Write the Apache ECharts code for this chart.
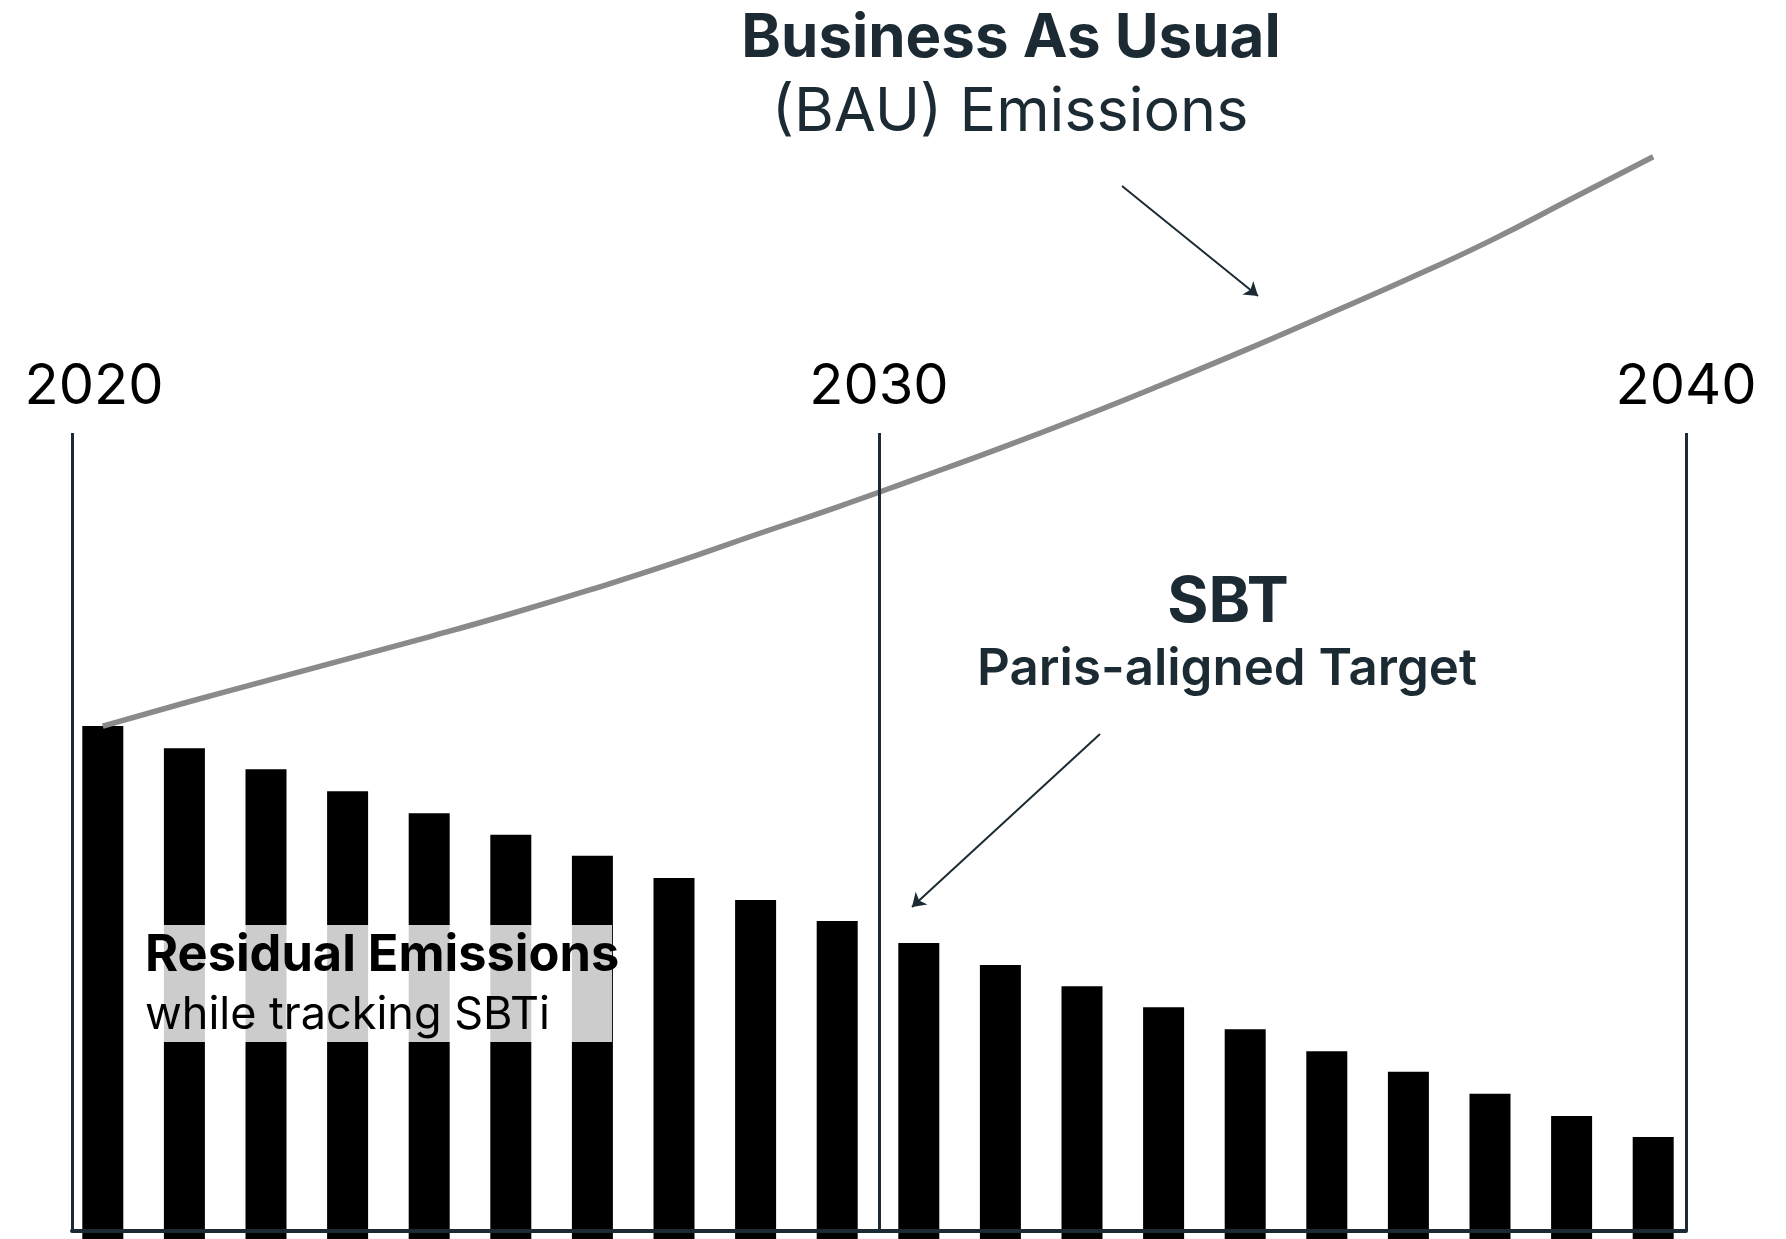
<!DOCTYPE html>
<html>
<head>
<meta charset="utf-8">
<title>Residual Emissions vs BAU</title>
<script src="https://cdn.jsdelivr.net/npm/echarts@6/dist/echarts.min.js"></script>
<style>
  html, body { margin: 0; padding: 0; background: #fff; }
  #chart { width: 1786px; height: 1239px; }
</style>
</head>
<body>
<div id="chart"></div>
<script>
// index, 2020 = 100
const years = ['2020', '2021', '2022', '2023', '2024', '2025', '2026', '2027', '2028', '2029',
  '2030', '2031', '2032', '2033', '2034', '2035', '2036', '2037', '2038', '2039']
const residualEmissions = [100, 95.7, 91.6, 87.3, 83.0, 78.8, 74.7, 70.4, 66.1, 62.0,
  57.7, 53.4, 49.3, 45.2, 40.9, 36.6, 32.6, 28.3, 24.0, 19.9]
const bauEmissions = [100, 104.5, 108.8, 113.1, 117.4, 121.9, 126.7, 131.8, 137.3, 142.7,
  148.4, 154.2, 160.3, 166.7, 173.3, 180.2, 187.2, 194.6, 202.8, 211.0]
const milestoneYears = [2020, 2030, 2040]

const FONT = 'Inter'
const DARK = '#1c2b33'

const chart = echarts.init(document.getElementById('chart'))

const labelText = (text, x, y, size, weight, color, align) => ({
  type: 'text',
  z: 100,
  style: {
    text: text,
    x: x,
    y: y,
    fill: color,
    font: weight + ' ' + size + 'px ' + FONT,
    textAlign: align || 'center',
    textVerticalAlign: 'middle'
  }
})

chart.setOption({
  animation: false,
  grid: [
    { left: 62, right: 92, top: 8, bottom: 0 },
    { left: 72, right: 100, top: 433, bottom: 8 }
  ],
  xAxis: [
    {
      type: 'category',
      gridIndex: 0,
      data: years,
      show: false
    },
    {
      type: 'value',
      gridIndex: 1,
      position: 'top',
      min: milestoneYears[0],
      max: milestoneYears[milestoneYears.length - 1],
      interval: 10,
      z: 5,
      axisLine: { show: false },
      axisTick: { show: false },
      splitLine: { show: true, lineStyle: { color: DARK, width: 3 } },
      axisLabel: {
        margin: 18,
        formatter: (v) => (v === milestoneYears[0] ? '{first|' + v + '}' : '{base|' + v + '}'),
        rich: {
          first: { fontSize: 56, fontFamily: FONT, color: '#000', padding: [0, 0, 0, 44] },
          base: { fontSize: 56, fontFamily: FONT, color: '#000' }
        }
      }
    },
    {
      type: 'value',
      gridIndex: 1,
      position: 'bottom',
      min: milestoneYears[0],
      max: milestoneYears[milestoneYears.length - 1],
      interval: 10,
      z: 5,
      axisLine: { show: true, lineStyle: { color: DARK, width: 4 } },
      axisTick: { show: false },
      axisLabel: { show: false },
      splitLine: { show: false }
    }
  ],
  yAxis: [
    { type: 'value', gridIndex: 0, min: 0, max: 240, show: false },
    { type: 'value', gridIndex: 1, min: 0, max: 1, show: false }
  ],
  series: [
    {
      name: 'Residual Emissions',
      type: 'bar',
      xAxisIndex: 0,
      yAxisIndex: 0,
      data: residualEmissions,
      barWidth: 41,
      itemStyle: { color: '#000' },
      silent: true,
      markLine: {
        silent: true,
        symbol: ['none', 'arrow'],
        symbolSize: 13,
        label: { show: false },
        lineStyle: { color: DARK, width: 2, type: 'solid' },
        data: [
          [{ x: 1122, y: 186 }, { x: 1258, y: 296 }],
          [{ x: 1100, y: 734 }, { x: 912, y: 907 }]
        ]
      }
    },
    {
      name: 'Business As Usual',
      type: 'line',
      xAxisIndex: 0,
      yAxisIndex: 0,
      data: bauEmissions,
      smooth: true,
      showSymbol: false,
      symbol: 'none',
      silent: true,
      lineStyle: { color: '#8a8a8a', width: 5.5 }
    }
  ],
  graphic: [
    // white veil over the bars behind the label
    {
      type: 'rect',
      z: 99,
      shape: { x: 161, y: 925, width: 451, height: 117 },
      style: { fill: 'rgba(255,255,255,0.8)' }
    },
    labelText('Business As Usual', 1011, 39, 60, 'bold', DARK),
    labelText('(BAU) Emissions', 1010, 113, 61, 'normal', DARK),
    labelText('SBT', 1228, 603, 63, 'bold', DARK),
    labelText('Paris-aligned Target', 1227, 670, 51, '600', DARK),
    labelText('Residual Emissions', 145, 956, 50.5, 'bold', '#000', 'left'),
    labelText('while tracking SBTi', 145, 1015, 45, 'normal', '#000', 'left')
  ]
})
</script>
</body>
</html>
